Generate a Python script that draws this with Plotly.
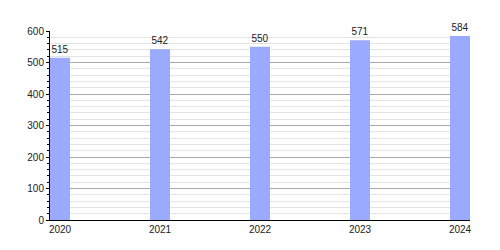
import plotly.graph_objects as go

years = [2020, 2021, 2022, 2023, 2024]
values = [515, 542, 550, 571, 584]
tick_labels = ["2020", "2021", "2022", "2023", "2024"]

fig = go.Figure()
fig.add_trace(go.Bar(
    x=years, y=values, width=0.2,
    marker=dict(color="#99aaff", line=dict(width=0)),
    text=[str(v) for v in values], textposition="outside",
    textfont=dict(family="Liberation Sans, Arial", size=10, color="#222"),
    cliponaxis=False,
))
fig.update_layout(
    width=500, height=250,
    margin=dict(l=50, r=30, t=31, b=30),
    plot_bgcolor="white", paper_bgcolor="white",
    showlegend=False,
    font=dict(family="Liberation Sans, Arial", size=10, color="#222"),
    xaxis=dict(
        range=[2019.9, 2024.1], tickvals=years, ticktext=tick_labels,
        showgrid=False, showline=True, linecolor="black", linewidth=1,
        ticks="", zeroline=False,
    ),
    yaxis=dict(
        range=[0, 600], dtick=100, showgrid=True, gridcolor="#aaaaaa", gridwidth=1,
        showline=True, linecolor="black", linewidth=1, ticks="outside", ticklen=3,
        tickcolor="black", zeroline=False,
        minor=dict(dtick=20, showgrid=True, gridcolor="#e4e4e4", ticks="outside",
                   ticklen=2, tickcolor="black"),
    ),
)
fig.write_html("out.html")
